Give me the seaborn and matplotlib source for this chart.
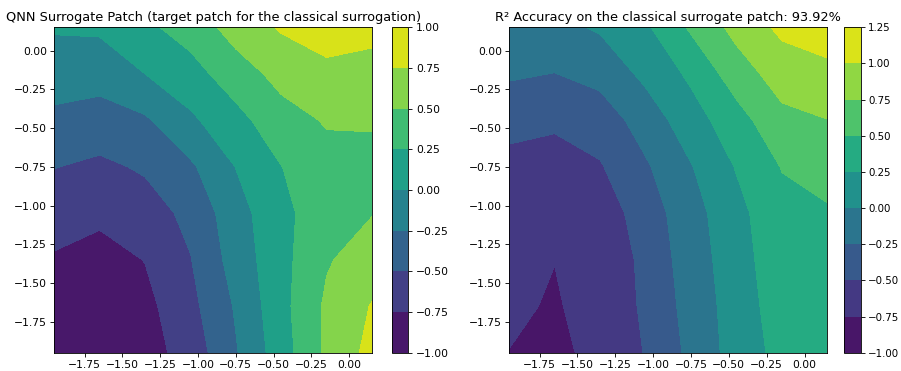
import numpy as np
import matplotlib
matplotlib.use("Agg")
import matplotlib.pyplot as plt
import seaborn as sns

# grid of the patch (same for both panels)
x_vals = [-1.95, -1.65, -1.35, -1.05, -0.75, -0.45, -0.15, 0.15]
y_vals = [-1.95, -1.65, -1.35, -1.05, -0.75, -0.45, -0.15, 0.15]

# rows: y from -1.95 (bottom) up to 0.15 (top), columns: x left to right
qnn_patch = [
    [-0.93, -0.95, -0.853, -0.647, -0.27, 0.135, 0.544, 0.83],
    [-0.88, -0.92, -0.82, -0.57, -0.225, 0.17, 0.543, 0.764],
    [-0.777, -0.848, -0.743, -0.51, -0.144, 0.17, 0.477, 0.623],
    [-0.635, -0.694, -0.611, -0.438, -0.1, 0.18, 0.40, 0.49],
    [-0.493, -0.55, -0.469, -0.29, 0.005, 0.245, 0.42, 0.41],
    [-0.306, -0.353, -0.285, -0.044, 0.168, 0.404, 0.52, 0.53],
    [-0.138, -0.156, 0.0, 0.155, 0.382, 0.577, 0.69, 0.60],
    [0.026, 0.041, 0.2, 0.354, 0.603, 0.776, 0.86, 0.87],
]

surrogate_patch = [
    [-0.755, -0.80, -0.689, -0.488, -0.19, 0.105, 0.328, 0.42],
    [-0.70, -0.778, -0.63, -0.47, -0.15, 0.11, 0.38, 0.45],
    [-0.665, -0.746, -0.65, -0.45, -0.11, 0.12, 0.44, 0.47],
    [-0.625, -0.68, -0.64, -0.38, -0.1, 0.175, 0.43, 0.47],
    [-0.586, -0.6, -0.52, -0.282, -0.014, 0.265, 0.51, 0.6],
    [-0.41, -0.46, -0.385, -0.14, 0.14, 0.40, 0.68, 0.745],
    [-0.22, -0.255, -0.17, 0.058, 0.298, 0.624, 0.866, 0.938],
    [-0.06, -0.064, 0.03, 0.211, 0.536, 0.829, 1.054, 1.12],
]

r2_accuracy = 93.92

cmap = sns.color_palette("viridis", as_cmap=True)
X, Y = np.meshgrid(x_vals, y_vals)

# reference looks like a larger figure scaled down, so draw at a lower dpi
DPI = 77
fig = plt.figure(figsize=(902 / DPI, 371 / DPI), dpi=DPI)
ax1 = fig.add_axes([0.0602, 0.0493, 0.3522, 0.877])
cax1 = fig.add_axes([0.435, 0.0493, 0.0177, 0.877])
ax2 = fig.add_axes([0.5646, 0.0493, 0.3525, 0.877])
cax2 = fig.add_axes([0.9354, 0.0493, 0.0188, 0.877])

# left: QNN patch
cs1 = ax1.contourf(X, Y, np.array(qnn_patch), cmap=cmap)
fig.colorbar(cs1, cax=cax1)
ax1.set_title("QNN Surrogate Patch (target patch for the classical surrogation)")

# right: classical surrogate
cs2 = ax2.contourf(X, Y, np.array(surrogate_patch), cmap=cmap)
fig.colorbar(cs2, cax=cax2)
cax2.tick_params(labelsize=9.6)
ax2.set_title(f"R\u00b2 Accuracy on the classical surrogate patch: {r2_accuracy:.2f}%")

fig.savefig("out.png", dpi=DPI)
